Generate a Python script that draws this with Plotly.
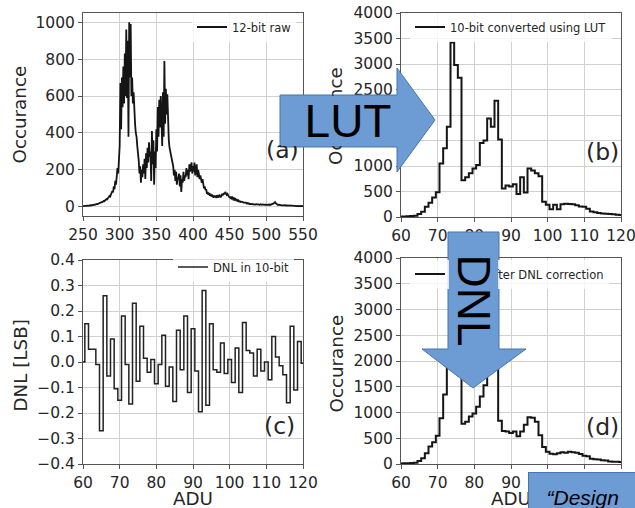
import plotly.graph_objects as go

W, H = 635, 508

# ---------------- data ----------------
adu12 = list(range(250, 551))
raw12 = [
    3, 4, 3, 5, 4, 5, 6, 5, 7, 6,
    8, 7, 9, 10, 9, 12, 11, 14, 13, 16,
    15, 18, 20, 19, 23, 25, 24, 29, 31, 30,
    35, 38, 42, 40, 48, 52, 58, 55, 65, 72,
    85, 78, 110, 95, 140, 120, 160, 210, 180, 260,
    330, 670, 420, 700, 540, 760, 560, 830, 600, 960,
    590, 900, 380, 1000, 700, 990, 600, 700, 560, 620,
    480, 450, 400, 380, 330, 300, 250, 180, 220, 130,
    200, 160, 230, 180, 260, 150, 290, 210, 320, 240,
    350, 270, 300, 140, 410, 230, 360, 120, 300, 210,
    420, 300, 540, 380, 580, 430, 600, 480, 330, 620,
    380, 790, 450, 640, 500, 610, 420, 360, 320, 290,
    280, 260, 240, 220, 170, 200, 140, 190, 120, 160,
    150, 180, 110, 170, 80, 150, 130, 190, 140, 170,
    160, 210, 170, 200, 150, 230, 190, 210, 240, 180,
    220, 190, 240, 170, 210, 230, 160, 200, 180, 150,
    170, 140, 130, 150, 120, 100, 110, 90, 95, 70,
    80, 65, 75, 60, 70, 55, 65, 60, 50, 58,
    55, 60, 48, 62, 55, 50, 65, 58, 52, 60,
    70, 62, 75, 68, 80, 72, 65, 70, 60, 55,
    52, 48, 55, 45, 50, 40, 45, 38, 42, 35,
    38, 32, 35, 28, 30, 26, 28, 24, 25, 22,
    23, 20, 22, 18, 20, 17, 19, 15, 17, 16,
    15, 14, 16, 13, 15, 12, 14, 13, 15, 12,
    13, 11, 14, 12, 11, 13, 10, 12, 11, 13,
    12, 10, 11, 13, 12, 10, 11, 14, 12, 15,
    18, 22, 25, 18, 14, 12, 10, 11, 9, 10,
    9, 8, 10, 8, 9, 7, 8, 7, 8, 6,
    7, 6, 7, 5, 6, 6, 5, 6, 5, 5,
    5, 4, 5, 4, 5, 4, 4, 5, 4, 4,
    4,
]

adu10 = list(range(60, 121))
lut10 = [
    10, 12, 15, 20, 25, 60, 105, 200, 280, 380,
    484, 1050, 1350, 1770, 3420, 2980, 2730, 720, 780, 860,
    950, 1020, 1450, 1500, 1930, 1770, 2280, 1520, 560, 620,
    600, 640, 450, 780, 480, 950, 910, 860, 800, 300,
    240, 150, 240, 150, 250, 260, 255, 250, 230, 205,
    200, 160, 110, 95, 80, 70, 65, 60, 55, 45,
    40,
]
dnl10 = [
    0.00, 0.15, 0.05, 0.05, -0.01, -0.27, 0.26, -0.055, 0.09, -0.105,
    -0.15, 0.18, -0.01, -0.165, 0.23, -0.075, 0.14, 0.015, -0.04, 0.01,
    -0.085, -0.01, 0.105, -0.095, -0.02, -0.155, 0.125, -0.03, 0.18, -0.12,
    0.13, -0.035, -0.195, 0.28, -0.17, 0.15, -0.03, -0.04, 0.075, -0.045,
    0.01, -0.08, 0.055, -0.12, 0.155, 0.045, 0.035, -0.055, 0.05, -0.035,
    0.0, -0.07, 0.1, 0.02, -0.015, -0.05, -0.16, 0.14, -0.11, 0.08,
    -0.005,
]
corr10 = [
    12, 14, 15, 18, 22, 60, 110, 210, 340, 420,
    550, 890, 1350, 2100, 2600, 2400, 2200, 780, 820, 920,
    980, 1110, 1310, 1530, 1900, 2200, 1950, 840, 640, 630,
    600, 630, 540, 630, 760, 910, 900, 820, 560, 330,
    240, 200, 190, 210, 230, 220, 240, 230, 220, 195,
    160, 150, 100, 90, 85, 75, 70, 50, 45, 42,
    38,
]

xticks_a = [250, 300, 350, 400, 450, 500, 550]
yticks_a = [0, 200, 400, 600, 800, 1000]
xticks_10 = [60, 70, 80, 90, 100, 110, 120]
yticks_hist = [0, 500, 1000, 1500, 2000, 2500, 3000, 3500, 4000]
yticks_dnl = [-0.4, -0.3, -0.2, -0.1, 0.0, 0.1, 0.2, 0.3, 0.4]

legend_names = ["12-bit raw", "10-bit converted using LUT", "DNL in 10-bit",
                "10-bit after DNL correction"]
panel_labels = ["(a)", "(b)", "(c)", "(d)"]

# ---------------- helpers ----------------
def px(x):
    return x / W

def py(y):
    return 1 - y / H

TXT = "#262626"
BLUE = "#6d9bd3"
EDGE = "#4a75aa"
FONT = "DejaVu Sans"

ax_style = dict(
    showline=True, linecolor="#555555", linewidth=1, mirror=True,
    showgrid=True, gridcolor="#d0d0d0", gridwidth=1,
    ticks="outside", ticklen=4, tickcolor="#555555",
    tickfont=dict(family=FONT, size=15.5, color=TXT),
    zeroline=False, automargin=False, ticklabeloverflow="allow",
)

fig = go.Figure()

line_main = dict(color="#151515", width=2)
fig.add_trace(go.Scatter(x=adu12, y=raw12, mode="lines", name=legend_names[0],
                         line=dict(color="#151515", width=1.8),
                         xaxis="x", yaxis="y", legend="legend"))
fig.add_trace(go.Scatter(x=adu10, y=lut10, mode="lines", name=legend_names[1],
                         line=dict(line_main, shape="hvh"),
                         xaxis="x2", yaxis="y2", legend="legend2"))
fig.add_trace(go.Scatter(x=adu10, y=dnl10, mode="lines", name=legend_names[2],
                         line=dict(color="#222222", width=1.5, shape="hvh"),
                         xaxis="x3", yaxis="y3", legend="legend3"))
fig.add_trace(go.Scatter(x=adu10, y=corr10, mode="lines", name=legend_names[3],
                         line=dict(line_main, shape="hvh"),
                         xaxis="x4", yaxis="y4", legend="legend4"))

def leg(x, y):
    return dict(x=px(x), y=py(y), xanchor="left", yanchor="middle",
                bgcolor="rgba(255,255,255,0.8)", borderwidth=0,
                font=dict(family=FONT, size=11.5, color=TXT),
                itemwidth=30, tracegroupgap=0)

layout = dict(
    width=W, height=H, margin=dict(l=0, r=0, t=0, b=0, autoexpand=False),
    paper_bgcolor="white", plot_bgcolor="white",
    xaxis=dict(ax_style, domain=[px(83), px(303)], range=[250, 550],
               tickvals=xticks_a, anchor="y"),
    yaxis=dict(ax_style, domain=[py(216), py(13)], range=[-50, 1050],
               tickvals=yticks_a, anchor="x"),
    xaxis2=dict(ax_style, domain=[px(401), px(621)], range=[60, 120],
                tickvals=xticks_10, anchor="y2"),
    yaxis2=dict(ax_style, domain=[py(217), py(13)], range=[0, 4000],
                tickvals=yticks_hist, anchor="x2"),
    xaxis3=dict(ax_style, domain=[px(83), px(303)], range=[60, 120],
                tickvals=xticks_10, anchor="y3"),
    yaxis3=dict(ax_style, domain=[py(464), py(260)], range=[-0.4, 0.4],
                tickvals=yticks_dnl, tickformat=".1f", anchor="x3"),
    xaxis4=dict(ax_style, domain=[px(401), px(621)], range=[60, 120],
                tickvals=xticks_10, anchor="y4"),
    yaxis4=dict(ax_style, domain=[py(464), py(258)], range=[0, 4000],
                tickvals=yticks_hist, anchor="x4"),
    legend=leg(192, 27),
    legend2=leg(410, 27),
    legend3=leg(173, 267),
    legend4=leg(410, 274),
    showlegend=True,
)
fig.update_layout(**layout)

annotations = []
# axis titles
def title(text, x, y, angle=0):
    annotations.append(dict(text=text, x=px(x), y=py(y), xref="paper", yref="paper",
                            xanchor="center", yanchor="middle", showarrow=False,
                            textangle=angle, font=dict(family=FONT, size=18.3, color=TXT)))

title("Occurance", 18.5, 115, -90)
title("Occurance", 335, 116, -90)
title("DNL [LSB]", 19.5, 366, -90)
title("Occurance", 335.5, 364, -90)
title("ADU", 193, 498)
title("ADU", 511, 498)

for lab, (x, y) in zip(panel_labels, [(282, 150), (602, 152), (279, 426), (602, 427)]):
    annotations.append(dict(text=lab, x=px(x), y=py(y), xref="paper", yref="paper",
                            xanchor="center", yanchor="middle", showarrow=False,
                            font=dict(family=FONT, size=23.5, color=TXT)))

# arrow bodies (drawn above titles and legends)
annotations.append(dict(text="LUT", x=px(281), y=py(96), xref="paper", yref="paper",
                        xanchor="left", yanchor="top", width=134, height=50,
                        bgcolor=BLUE, borderwidth=0, borderpad=0, showarrow=False,
                        font=dict(family="Liberation Sans", size=46, color="black")))
annotations.append(dict(text="DNL", x=px(473.5), y=py(233), xref="paper", yref="paper",
                        xanchor="center", yanchor="top", width=135, height=49,
                        textangle=90,
                        bgcolor=BLUE, borderwidth=0, borderpad=0, showarrow=False,
                        font=dict(family="Liberation Sans", size=46, color="black")))
annotations.append(dict(text="\u00a0\u00a0\u00a0<i>\u201cDesign</i>", x=px(528), y=py(472),
                        xref="paper", yref="paper", xanchor="left", yanchor="top",
                        width=140, height=48, align="left",
                        bgcolor=BLUE, bordercolor=EDGE, borderwidth=1, borderpad=0,
                        showarrow=False,
                        font=dict(family="Liberation Sans", size=21, color="black")))

def path(points):
    return "M" + " L".join(f"{px(x):.5f},{py(y):.5f}" for x, y in points) + " Z"

shapes = [
    dict(type="path", xref="paper", yref="paper", layer="above",
         path=path([(280, 95), (397, 95), (397, 68), (435, 120), (397, 172), (397, 147), (280, 147)]),
         fillcolor=BLUE, line=dict(color=EDGE, width=1)),
    dict(type="path", xref="paper", yref="paper", layer="above",
         path=path([(448, 232), (499, 232), (499, 349), (526, 349), (473, 388), (422, 349), (448, 349)]),
         fillcolor=BLUE, line=dict(color=EDGE, width=1)),
]

fig.update_layout(annotations=annotations, shapes=shapes)
fig.write_html("out.html")
